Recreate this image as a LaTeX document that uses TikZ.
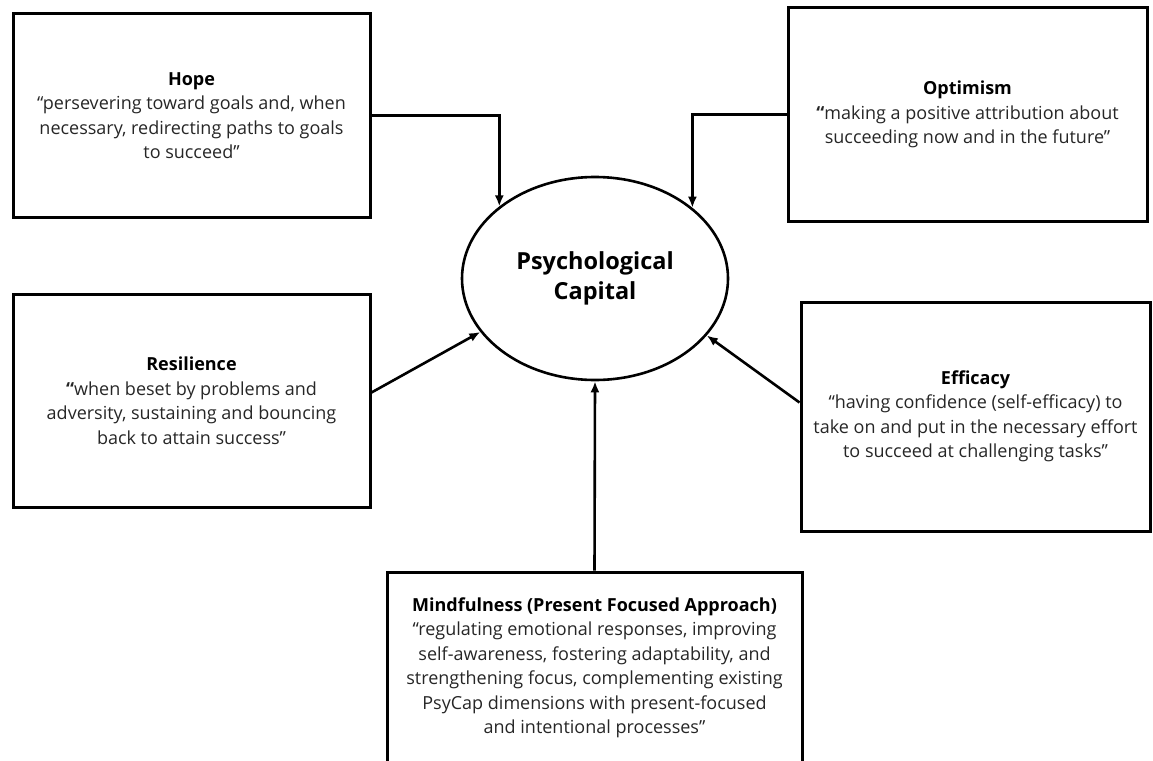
\documentclass[tikz,border=0pt]{standalone}
\usepackage{fontspec}
\setmainfont{Open Sans}
\usetikzlibrary{positioning, shapes.geometric, arrows.meta}

\begin{document}
\begin{tikzpicture}[x=1pt, y=-1pt,
		dimbox/.style={rectangle, draw, line width=3pt, inner sep=0pt, align=center, text=black!85, font=\fontsize{18}{24.5}\selectfont},
		core/.style={ellipse, draw, line width=2.6pt, inner sep=0pt, minimum width=266pt, minimum height=203pt, align=center, font=\bfseries\fontsize{23.5}{30}\selectfont},
		link/.style={line width=2.6pt, -{Latex[length=11pt, width=9pt]}}
	]
	\useasboundingbox (0,0) rectangle (1153,760);
	\clip (0,0) rectangle (1153,760);

	\node[core] (psycap) at (595,278.5) {Psychological\\Capital};

	\node[dimbox, minimum width=357pt, minimum height=203pt] (hope) at (191.5,115.5) {\textcolor{black}{\textbf{Hope}}\\“persevering toward goals and, when\\necessary, redirecting paths to goals\\to succeed”};
	\node[dimbox, minimum width=359pt, minimum height=213pt] (optim) at (967.5,114.5) {\textcolor{black}{\textbf{Optimism}}\\\textbf{“}making a positive attribution about\\succeeding now and in the future”};
	\node[dimbox, minimum width=357pt, minimum height=213pt] (resil) at (191.5,400.5) {\textcolor{black}{\textbf{Resilience}}\\\textbf{“}when beset by problems and\\adversity, sustaining and bouncing\\back to attain success”};
	\node[dimbox, minimum width=349pt, minimum height=229pt] (effic) at (975.5,416.5) {\textcolor{black}{\textbf{Efficacy}}\\“having confidence (self-efficacy) to\\take on and put in the necessary effort\\to succeed at challenging tasks”};
	\node[dimbox, minimum width=415pt, minimum height=192pt] (mind) at (594.5,668) {\textcolor{black}{\textbf{Mindfulness (Present Focused Approach)}}\\“regulating emotional responses, improving\\self-awareness, fostering adaptability, and\\strengthening focus, complementing existing\\PsyCap dimensions with present-focused\\and intentional processes”};

	\foreach \i/\j in {hope.east/143.2, optim.west/36.8}
		\draw[link] (\i) -| (psycap.\j);

	\draw[link] ([yshift=8pt]resil.east) -- (psycap.205);
	\draw[link] ([yshift=14pt]effic.west) -- (psycap.333);
	\draw[link] (mind.north) -- (psycap.south);

\end{tikzpicture}
\end{document}
